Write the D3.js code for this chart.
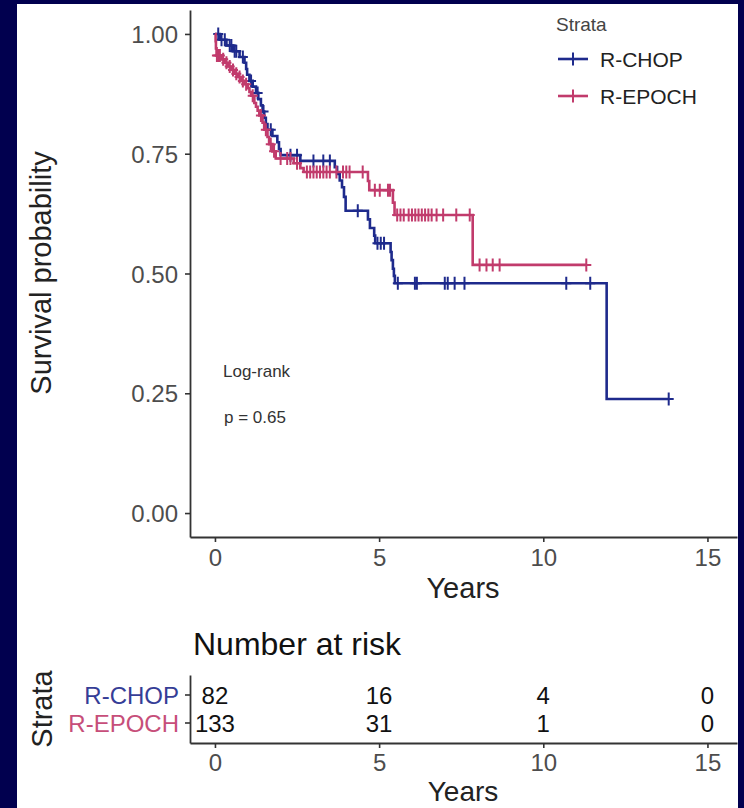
<!DOCTYPE html>
<html>
<head>
<meta charset="utf-8">
<script src="https://cdn.jsdelivr.net/npm/d3@7"></script>
<style>
  html, body { margin: 0; padding: 0; background: #01004f; }
  svg { display: block; }
  text { font-family: "Liberation Sans", Arial, sans-serif; }
</style>
</head>
<body>
<svg id="chart" width="744" height="808"></svg>
<script>
// ---------------- data ----------------
const strata = ["R-CHOP", "R-EPOCH"];
const strataColors = ["#1e2a8c", "#c13b6c"];

// R-CHOP Kaplan-Meier steps (time in years, survival after step)
const chopStepTimes = [0.15, 0.35, 0.55, 0.75, 0.9, 0.95, 0.98, 1.05, 1.15, 1.25, 1.32, 1.4, 1.45, 1.5, 1.55, 1.6, 1.75, 1.9, 1.95, 2.0, 2.6, 3.65, 3.72, 3.8, 3.87, 3.93, 3.98, 4.66, 4.72, 4.85, 4.88, 5.35, 5.38, 5.42, 5.45, 5.48, 11.93];
const chopStepSurv  = [0.988, 0.976, 0.964, 0.952, 0.94, 0.927, 0.915, 0.902, 0.89, 0.877, 0.864, 0.851, 0.838, 0.825, 0.812, 0.80, 0.787, 0.774, 0.76, 0.747, 0.735, 0.722, 0.708, 0.694, 0.68, 0.66, 0.631, 0.613, 0.595, 0.579, 0.563, 0.545, 0.528, 0.51, 0.495, 0.4795, 0.238];
const chopCensorTimes = [0.1, 0.2, 0.3, 0.45, 0.5, 0.6, 0.65, 0.85, 1.1, 1.3, 1.48, 1.7, 2.3, 2.5, 3.0, 3.3, 3.5, 4.35, 4.95, 5.05, 5.15, 5.57, 6.09, 6.15, 7.0, 7.09, 7.3, 7.6, 10.7, 11.43, 13.82];

// R-EPOCH Kaplan-Meier steps
const epochStepTimes = [0.02, 0.03, 0.05, 0.2, 0.3, 0.4, 0.5, 0.6, 0.7, 0.8, 0.9, 1.0, 1.05, 1.1, 1.2, 1.25, 1.3, 1.35, 1.45, 1.5, 1.6, 1.65, 1.75, 1.85, 2.4, 2.6, 2.7, 4.66, 4.7, 5.42, 5.47, 7.85];
const epochStepSurv  = [0.985, 0.97, 0.955, 0.947, 0.94, 0.932, 0.925, 0.917, 0.91, 0.902, 0.895, 0.887, 0.879, 0.871, 0.856, 0.848, 0.84, 0.83, 0.815, 0.80, 0.785, 0.77, 0.755, 0.74, 0.73, 0.72, 0.712, 0.693, 0.674, 0.648, 0.622, 0.518];
const epochCensorTimes = [0.06, 0.1, 0.15, 0.25, 0.35, 0.45, 0.55, 0.65, 0.75, 0.85, 0.95, 1.15, 1.4, 1.55, 1.7, 1.8, 2.0, 2.2, 2.3, 2.5, 2.8, 2.9, 3.0, 3.1, 3.2, 3.3, 3.4, 3.5, 3.7, 3.9, 4.0, 4.1, 4.5, 4.87, 5.02, 5.27, 5.33, 5.55, 5.65, 5.75, 5.9, 6.0, 6.1, 6.2, 6.3, 6.4, 6.5, 6.6, 6.75, 6.95, 7.35, 7.76, 8.06, 8.27, 8.46, 8.67, 11.31];

const xTicks = [0, 5, 10, 15];
const yTicks = [0, 0.25, 0.5, 0.75, 1];
const yTickLabels = ["0.00", "0.25", "0.50", "0.75", "1.00"];
const riskTimes = [0, 5, 10, 15];
const chopRisk = [82, 16, 4, 0];
const epochRisk = [133, 31, 1, 0];
const pValueText = "p = 0.65";
const testText = "Log-rank";

// ---------------- drawing ----------------
const svg = d3.select("#chart");
svg.append("rect").attr("x", 17).attr("y", 4).attr("width", 721).attr("height", 804).attr("fill", "#ffffff");

const x = d3.scaleLinear().domain([-0.76, 15.9]).range([190, 737]);
const y = d3.scaleLinear().domain([-0.05, 1.05]).range([537, 10]);

const axisColor = "#333333";
const tickTextColor = "#4d4d4d";

function styleAxis(g, fs) {
  g.select(".domain").attr("stroke", axisColor).attr("stroke-width", 1.8);
  g.selectAll(".tick line").attr("stroke", axisColor).attr("stroke-width", 1.6);
  g.selectAll(".tick text").attr("fill", tickTextColor).attr("font-size", fs)
    .attr("font-family", "'Liberation Sans', Arial, sans-serif");
}

// main y axis
const gy = svg.append("g").attr("transform", "translate(190,0)")
  .call(d3.axisLeft(y).tickValues(yTicks).tickFormat((d, i) => yTickLabels[i]).tickSize(5).tickSizeOuter(0).tickPadding(7));
styleAxis(gy, 24);
gy.selectAll(".tick text").attr("dy", "0.36em");

// main x axis
const gx = svg.append("g").attr("transform", "translate(0,537)")
  .call(d3.axisBottom(x).tickValues(xTicks).tickSize(5).tickSizeOuter(0).tickPadding(7));
styleAxis(gx, 24);

// axis titles
svg.append("text").attr("x", 463).attr("y", 598).attr("text-anchor", "middle")
  .attr("font-size", 29).attr("fill", "#222").text("Years");
svg.append("text").attr("transform", "translate(51,273) rotate(-90)").attr("text-anchor", "middle")
  .attr("font-size", 29).attr("fill", "#222").text("Survival probability");

// curves
function stepPoints(times, surv, endTime) {
  const pts = [[0, 1]];
  let s = 1;
  times.forEach((t, i) => { pts.push([t, s]); s = surv[i]; pts.push([t, s]); });
  pts.push([endTime, s]);
  return pts;
}
function survAt(times, surv, t) {
  let s = 1;
  for (let i = 0; i < times.length; i++) { if (times[i] <= t) s = surv[i]; }
  return s;
}
const series = [
  { name: strata[0], color: strataColors[0], times: chopStepTimes, surv: chopStepSurv, cens: chopCensorTimes },
  { name: strata[1], color: strataColors[1], times: epochStepTimes, surv: epochStepSurv, cens: epochCensorTimes }
];
const line = d3.line().x(d => x(d[0])).y(d => y(d[1]));
const crossPath = "M-5,0H5M0,-6.5V6.5";

series.forEach(s => {
  const endT = d3.max(s.cens.concat(s.times));
  svg.append("path").datum(stepPoints(s.times, s.surv, endT))
    .attr("d", line).attr("fill", "none").attr("stroke", s.color).attr("stroke-width", 2.6)
    .attr("stroke-linejoin", "miter");
  svg.append("g").selectAll("path").data(s.cens).join("path")
    .attr("transform", t => `translate(${x(t)},${y(survAt(s.times, s.surv, t))})`)
    .attr("d", crossPath).attr("stroke", s.color).attr("stroke-width", 2).attr("fill", "none");
});

// p-value annotation
svg.append("text").attr("x", 223).attr("y", 377).attr("font-size", 17).attr("fill", "#333").text(testText);
svg.append("text").attr("x", 224).attr("y", 423).attr("font-size", 17).attr("fill", "#333").text(pValueText);

// legend
svg.append("text").attr("x", 556).attr("y", 31).attr("font-size", 19).attr("fill", "#444").text("Strata");
series.forEach((s, i) => {
  const ly = 59 + i * 37;
  svg.append("line").attr("x1", 558).attr("x2", 588).attr("y1", ly).attr("y2", ly)
    .attr("stroke", s.color).attr("stroke-width", 2.6);
  svg.append("path").attr("transform", `translate(573,${ly})`).attr("d", crossPath)
    .attr("stroke", s.color).attr("stroke-width", 2);
  svg.append("text").attr("x", 600).attr("y", ly).attr("dy", "0.36em")
    .attr("font-size", 21).attr("fill", "#222").text(s.name);
});

// ---------------- risk table ----------------
svg.append("text").attr("x", 193).attr("y", 655).attr("font-size", 32).attr("fill", "#111").text("Number at risk");

const ry = d3.scalePoint().domain(strata).range([695, 723]);
const gry = svg.append("g").attr("transform", "translate(190,0)")
  .call(d3.axisLeft(d3.scaleLinear().domain([0, 1]).range([675, 743])).tickValues([]).tickSizeOuter(0));
styleAxis(gry, 24);
strata.forEach((name, i) => {
  svg.append("line").attr("x1", 185).attr("x2", 190).attr("y1", ry(name)).attr("y2", ry(name))
    .attr("stroke", axisColor).attr("stroke-width", 1.6);
  svg.append("text").attr("x", 179).attr("y", ry(name)).attr("dy", "0.36em").attr("text-anchor", "end")
    .attr("font-size", 24).attr("fill", strataColors[i]).attr("opacity", 0.9).text(name);
});
const grx = svg.append("g").attr("transform", "translate(0,743)")
  .call(d3.axisBottom(x).tickValues(xTicks).tickSize(5).tickSizeOuter(0).tickPadding(6));
styleAxis(grx, 24);

[chopRisk, epochRisk].forEach((vals, i) => {
  svg.append("g").selectAll("text").data(vals).join("text")
    .attr("x", (d, j) => x(riskTimes[j])).attr("y", ry(strata[i])).attr("dy", "0.36em")
    .attr("text-anchor", "middle").attr("font-size", 24).attr("fill", "#111").text(d => d);
});

svg.append("text").attr("x", 463).attr("y", 801).attr("text-anchor", "middle")
  .attr("font-size", 28).attr("fill", "#222").text("Years");
svg.append("text").attr("transform", "translate(52,709) rotate(-90)").attr("text-anchor", "middle")
  .attr("font-size", 29).attr("fill", "#222").text("Strata");
</script>
</body>
</html>
